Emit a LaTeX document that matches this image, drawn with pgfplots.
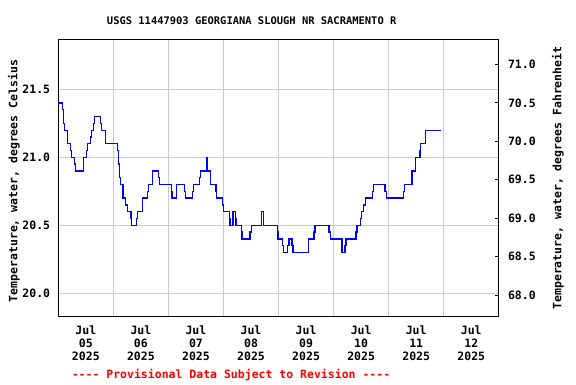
\documentclass[border=0pt]{standalone}
\usepackage{fontspec}
\setmonofont{DejaVu Sans Mono}
\usepackage{pgfplots}
\pgfplotsset{compat=1.18}
\usepackage{pgfplotstable}
\definecolor{gridgray}{RGB}{204,204,204}
\newcommand\lab{\ttfamily\bfseries\fontsize{11.5}{13}\selectfont}
\newcommand\ttl{\ttfamily\bfseries\fontsize{10.45}{12}\selectfont}

\pgfplotstableread{
h t
0 21.4
1.9 21.35
2.2 21.25
2.6 21.2
4.1 21.1
5.4 21.05
5.8 21.0
7.0 20.95
7.4 20.9
10.9 21.0
12.2 21.05
12.6 21.1
14.0 21.15
14.4 21.2
15.4 21.25
15.7 21.3
18.5 21.25
18.7 21.2
20.5 21.1
25.7 21.05
26.4 20.95
26.7 20.85
27.2 20.8
28.2 20.7
29.4 20.65
30.1 20.6
31.7 20.55
32.0 20.5
34.0 20.55
34.4 20.6
36.6 20.7
38.8 20.75
39.4 20.8
41.0 20.9
43.6 20.85
44.2 20.8
49.2 20.75
49.6 20.7
51.6 20.8
54.9 20.75
55.3 20.7
58.5 20.75
59.0 20.8
61.4 20.85
61.9 20.9
64.5 21.0
64.8 20.95
65.0 20.9
66.5 20.8
68.7 20.75
69.1 20.7
71.5 20.65
71.9 20.6
74.5 20.55
74.8 20.5
76.1 20.6
77.1 20.55
77.5 20.5
79.7 20.45
80.1 20.4
83.6 20.45
84.1 20.5
88.7 20.6
89.3 20.55
89.6 20.5
95.4 20.4
95.7 20.45
96.1 20.4
97.6 20.35
98.0 20.3
100.0 20.35
100.5 20.4
101.9 20.35
102.3 20.3
108.9 20.4
111.4 20.45
111.9 20.5
118.0 20.45
118.5 20.4
123.7 20.3
125.0 20.35
125.4 20.4
129.8 20.45
130.2 20.5
131.8 20.55
132.3 20.6
133.1 20.65
134.0 20.7
137.1 20.75
137.5 20.8
142.4 20.75
142.9 20.7
150.4 20.75
150.9 20.8
154.2 20.9
155.8 21.0
157.6 21.05
158.0 21.1
160.2 21.2
166.6 21.2
}\temps

\begin{document}
\begin{tikzpicture}
\path[use as bounding box] (0pt,0pt) rectangle (576pt,384pt);
\begin{axis}[
  at={(58.3pt,68pt)}, anchor=south west,
  scale only axis, width=440.5pt, height=276.7pt,
  xmin=0, xmax=192, ymin=19.833, ymax=21.868,
  xtick={12,36,60,84,108,132,156,180},
  xticklabels={{Jul\\05\\2025},{Jul\\06\\2025},{Jul\\07\\2025},{Jul\\08\\2025},{Jul\\09\\2025},{Jul\\10\\2025},{Jul\\11\\2025},{Jul\\12\\2025}},
  minor xtick={24,48,72,96,120,144,168},
  xminorgrids=true, xmajorgrids=false,
  ytick={20,20.5,21,21.5}, ymajorgrids=true,
  grid style={draw=gridgray, line width=1pt},
  minor grid style={draw=gridgray, line width=1pt},
  major tick length=0pt, minor tick length=0pt,
  axis line style={line width=1pt},
  /pgf/number format/assume math mode=true,
  yticklabel={\pgfmathprintnumber[fixed,fixed zerofill,precision=1]{\tick}},
  xticklabel style={font=\lab, align=center, inner sep=0pt, anchor=north, yshift=-9.3pt},
  yticklabel style={font=\lab, inner sep=0pt, anchor=east, xshift=-8pt},
]
\addplot[const plot, draw=blue, line width=1.25pt] table[x=h,y=t] {\temps};
\end{axis}
\begin{axis}[
  at={(58.3pt,68pt)}, anchor=south west,
  scale only axis, width=440.5pt, height=276.7pt,
  xmin=0, xmax=192, ymin=67.731, ymax=71.325,
  axis x line=none, axis y line*=right,
  ytick={68,68.5,69,69.5,70,70.5,71},
  major tick length=3.5pt,
  tick style={line width=1pt, black},
  axis line style={line width=1pt},
  /pgf/number format/assume math mode=true,
  yticklabel={\pgfmathprintnumber[fixed,fixed zerofill,precision=1]{\tick}},
  yticklabel style={font=\lab, inner sep=0pt, anchor=west, xshift=9pt},
]
\end{axis}
\node[anchor=base, font=\ttl] at (251.7pt,359.3pt) {USGS 11447903 GEORGIANA SLOUGH NR SACRAMENTO R};
\node[anchor=base, font=\lab, text=red] at (231pt,6pt) {{-}{-}{-}{-} Provisional Data Subject to Revision {-}{-}{-}{-}};
\node[rotate=90, font=\lab, inner sep=0pt] at (14pt,203pt) {Temperature, water, degrees Celsius};
\node[rotate=90, font=\lab, inner sep=0pt] at (558pt,206pt) {Temperature, water, degrees Fahrenheit};
\end{tikzpicture}
\end{document}
